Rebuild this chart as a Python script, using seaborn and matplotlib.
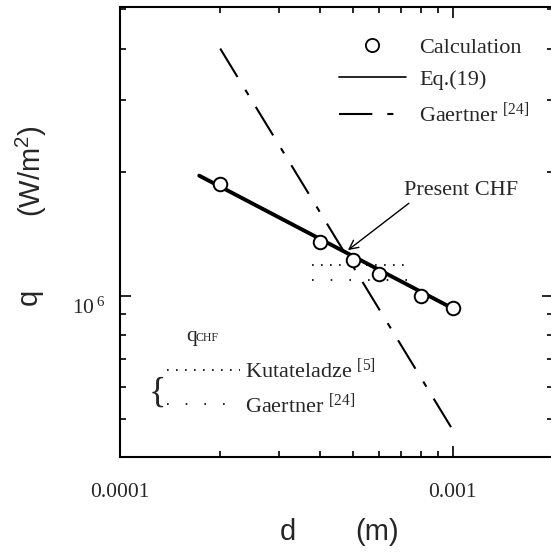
import matplotlib
matplotlib.use("Agg")
import matplotlib.pyplot as plt
import matplotlib.transforms as mtransforms
import numpy as np
import seaborn as sns
from matplotlib.lines import Line2D
from matplotlib.ticker import FixedFormatter, FixedLocator, LogLocator, NullFormatter

# calculated CHF points
calc_d = [2e-4, 4e-4, 5e-4, 6e-4, 8e-4, 1e-3]
calc_q = [1.87e6, 1.35e6, 1.22e6, 1.13e6, 1.0e6, 0.93e6]
# Eq.(19)
eq19_d = [1.73e-4, 1e-3]
eq19_q = [1.96e6, 0.93e6]
# Gaertner [24] correlation
gaertner_d = [2e-4, 1e-3]
gaertner_q = [4.0e6, 4.7e5]
# q_CHF levels, Kutateladze [5] and Gaertner [24]
chf_d = [3.77e-4, 7.43e-4]
kutateladze_q = [1.19e6, 1.19e6]
gaertner_chf_q = [1.09e6, 1.09e6]
present_chf = (4.84e-4, 1.29e6)

xticks = [1e-4, 1e-3]
xticklabels = ["0.0001", "0.001"]
yticks = [1e6]
yticklabels = [r"$\mathregular{10^{\,6}}$"]

DASHDOT = (0, (16, 7.2, 2.9, 6.7))
DOTS = (0, (1, 4.4))
SPARSE_DOTS = (0, (1, 10.2))

sns.set_style("ticks", {"xtick.direction": "in", "ytick.direction": "in"})
plt.rcParams["font.family"] = ["Liberation Serif", "DejaVu Serif"]
plt.rcParams["mathtext.fontset"] = "custom"
plt.rcParams["mathtext.rm"] = "Liberation Serif"

W, H = 551, 552


def px(x, y):
    # pixel position -> figure fraction
    return (x / W, 1 - y / H)


fig = plt.figure(figsize=(W / 100, H / 100), dpi=100)
ax = fig.add_axes([120 / W, 1 - 457 / H, 433 / W, 449.6 / H])
ax.set_xscale("log")
ax.set_yscale("log")

sns.lineplot(x=eq19_d, y=eq19_q, color="black", lw=2.8, estimator=None, ax=ax)
sns.lineplot(x=gaertner_d, y=gaertner_q, color="black", lw=1.5,
             linestyle=DASHDOT, estimator=None, ax=ax)
sns.lineplot(x=chf_d, y=kutateladze_q, color="black", lw=1.2,
             linestyle=DOTS, estimator=None, ax=ax)
sns.lineplot(x=chf_d, y=gaertner_chf_q, color="black", lw=1.2,
             linestyle=SPARSE_DOTS, estimator=None, ax=ax)
sns.scatterplot(x=calc_d, y=calc_q, s=95, color="white", edgecolor="black",
                linewidth=1.4, zorder=5, ax=ax)

ax.set_xlim(1e-4, 2e-3)
ax.set_ylim(4.04e5, 5.04e6)
ax.xaxis.set_major_locator(FixedLocator(xticks))
ax.xaxis.set_major_formatter(FixedFormatter(xticklabels))
ax.xaxis.set_minor_locator(LogLocator(base=10, subs=np.arange(2, 10)))
ax.xaxis.set_minor_formatter(NullFormatter())
ax.yaxis.set_major_locator(FixedLocator(yticks))
ax.yaxis.set_major_formatter(FixedFormatter(yticklabels))
ax.yaxis.set_minor_locator(LogLocator(base=10, subs=np.arange(2, 10)))
ax.yaxis.set_minor_formatter(NullFormatter())
ax.tick_params(which="both", direction="in", top=True, right=True,
               width=1.2, color="black")
ax.tick_params(which="major", length=8, labelsize=15.5)
ax.tick_params(which="minor", length=4)
ax.tick_params(axis="x", which="major", pad=19)
ax.tick_params(axis="y", which="major", pad=11)
for s in ax.spines.values():
    s.set_linewidth(1.5)
    s.set_color("black")
ax.set_xlabel("")
ax.set_ylabel("")

# the 10^6 label sits a little below its tick in the original
shift = mtransforms.ScaledTranslation(0, -7 / 72, fig.dpi_scale_trans)
for tick in ax.yaxis.get_major_ticks():
    tick.label1.set_transform(tick.label1.get_transform() + shift)

handles = [
    Line2D([], [], ls="none", marker="o", ms=9.5, mfc="white", mec="black", mew=1.3),
    Line2D([], [], color="black", lw=1.2),
    Line2D([], [], color="black", lw=1.5, ls=DASHDOT),
]
labels = ["Calculation", "Eq.(19)", r"Gaertner $\mathregular{^{[24]}}$"]
ax.legend(handles, labels, loc="upper left", bbox_to_anchor=px(339, 37),
          bbox_transform=fig.transFigure, frameon=False, fontsize=16,
          handlelength=3.0, handletextpad=0.6, labelspacing=0.52,
          borderpad=0, borderaxespad=0)

ax.annotate("Present CHF", xy=present_chf, xytext=px(404, 195),
            textcoords="figure fraction", ha="left", va="baseline", fontsize=16,
            arrowprops=dict(arrowstyle="->", color="black", lw=1.0,
                            shrinkA=0, shrinkB=0, relpos=(0.08, 0)))

# q_CHF key in the lower left
fig.text(*px(186.5, 341), "q", fontsize=15.5, ha="left", va="baseline")
fig.text(*px(196, 341), "CHF", fontsize=8.5, ha="left", va="baseline")
for y, ls in [(370, DOTS), (404, SPARSE_DOTS)]:
    x0, y0 = px(167, y)
    x1, _ = px(240, y)
    fig.add_artist(Line2D([x0, x1], [y0, y0], transform=fig.transFigure,
                          color="black", lw=1.2, ls=ls))
fig.text(*px(245, 378), r"Kutateladze $\mathregular{^{[5]}}$", fontsize=16,
         ha="left", va="baseline")
fig.text(*px(245, 413), r"Gaertner $\mathregular{^{[24]}}$", fontsize=16,
         ha="left", va="baseline")
fig.text(*px(157, 393), "{", fontsize=26, ha="center", va="center")

# axis titles
sans = ["Liberation Sans", "DejaVu Sans"]
fig.text(*px(288, 532), "d", family=sans, fontsize=21, ha="center", va="center")
fig.text(*px(377, 532), "(m)", family=sans, fontsize=21, ha="center", va="center")
fig.text(*px(29, 297), "q", family=sans, fontsize=21, rotation=90,
         ha="center", va="center")
fig.text(*px(31, 171), r"(W/m$\mathregular{^2}$)", family=sans, fontsize=21,
         rotation=90, ha="center", va="center")

fig.savefig("out.png", dpi=100)
